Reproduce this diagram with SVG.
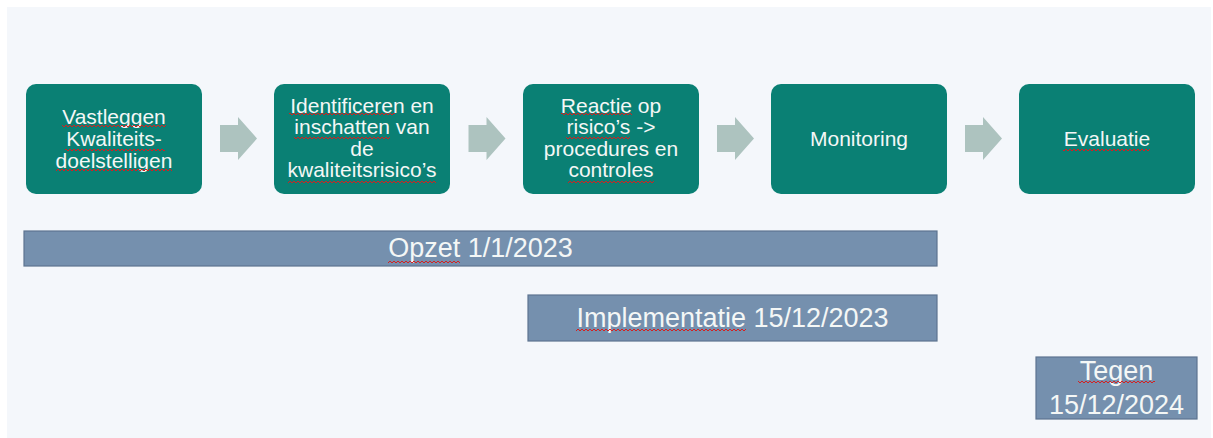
<svg xmlns="http://www.w3.org/2000/svg" xmlns:xlink="http://www.w3.org/1999/xlink" width="1213" height="438" viewBox="0 0 1213 438">
<style>
.box{fill:#0a8074;}
.bar{fill:#7590ae;stroke:#5d7490;stroke-width:1.2;}
.t{font-family:"Liberation Sans",Arial,sans-serif;fill:#f4f7f6;text-anchor:middle;}
.bt{font-size:21px;}
.lt{font-size:27px;}
.arr{fill:#adc3bf;}
.sq{fill:url(#squig);}
</style>
<defs>
<pattern id="squig" x="0" y="0" width="4" height="4" patternUnits="userSpaceOnUse">
<path d="M0,3 L2,1 L4,3" fill="none" stroke="#d42020" stroke-width="1"/>
</pattern>
<path id="arrow" d="M-18,125 H0 V117 L19,138.5 L0,160 V152 H-18 Z"/>
</defs>
<rect x="0" y="0" width="1213" height="438" fill="#ffffff"/>
<rect x="7" y="7" width="1204" height="431" fill="#f4f7fb"/>

<g id="connectors" class="arr">
<use xlink:href="#arrow" href="#arrow" x="238" y="0"/>
<use xlink:href="#arrow" href="#arrow" x="486.5" y="0"/>
<use xlink:href="#arrow" href="#arrow" x="735" y="0"/>
<use xlink:href="#arrow" href="#arrow" x="983" y="0"/>
</g>

<g id="node1">
<rect class="box" x="26" y="84" width="176" height="110" rx="10"/>
<text class="t bt"><tspan x="114" y="124">Vastleggen</tspan><tspan x="114" y="146">Kwaliteits-</tspan><tspan x="114" y="168">doelstelligen</tspan></text>
<rect class="sq" x="62" y="124" width="104" height="4"/>
<rect class="sq" x="65" y="148" width="100" height="4"/>
<rect class="sq" x="56" y="168" width="116" height="4"/>
</g>

<g id="node2">
<rect class="box" x="274" y="84" width="176" height="110" rx="10"/>
<text class="t bt"><tspan x="362" y="112.5">Identificeren en</tspan><tspan x="362" y="134">inschatten van</tspan><tspan x="362" y="155.5">de</tspan><tspan x="362" y="177">kwaliteitsrisico’s</tspan></text>
<rect class="sq" x="289" y="112" width="106" height="4"/>
<rect class="sq" x="294" y="136" width="96" height="4"/>
<rect class="sq" x="288" y="180" width="148" height="4"/>
</g>

<g id="node3">
<rect class="box" x="523" y="84" width="176" height="110" rx="10"/>
<text class="t bt"><tspan x="611" y="112.5">Reactie op</tspan><tspan x="611" y="134">risico’s -&gt;</tspan><tspan x="611" y="155.5">procedures en</tspan><tspan x="611" y="177">controles</tspan></text>
<rect class="sq" x="561" y="112" width="71" height="4"/>
<rect class="sq" x="566" y="136" width="64" height="4"/>
<rect class="sq" x="568" y="180" width="86" height="4"/>
</g>

<g id="node4">
<rect class="box" x="771" y="84" width="176" height="110" rx="10"/>
<text class="t bt" x="859" y="146">Monitoring</text>
</g>

<g id="node5">
<rect class="box" x="1019" y="84" width="176" height="110" rx="10"/>
<text class="t bt" x="1107" y="146">Evaluatie</text>
<rect class="sq" x="1063" y="148" width="87" height="4"/>
</g>

<g id="bar-opzet">
<rect class="bar" x="24" y="231" width="913" height="35"/>
<text class="t lt" x="480.5" y="257">Opzet 1/1/2023</text>
<rect class="sq" x="388" y="260" width="72" height="4"/>
</g>

<g id="bar-implementatie">
<rect class="bar" x="528" y="295" width="409" height="46"/>
<text class="t lt" x="732.5" y="327">Implementatie 15/12/2023</text>
<rect class="sq" x="576" y="328" width="170" height="4"/>
</g>

<g id="bar-tegen">
<rect class="bar" x="1036" y="357" width="161" height="62"/>
<text class="t lt"><tspan x="1116.5" y="380">Tegen</tspan><tspan x="1116.5" y="414">15/12/2024</tspan></text>
<rect class="sq" x="1078" y="380" width="77" height="4"/>
</g>
</svg>
